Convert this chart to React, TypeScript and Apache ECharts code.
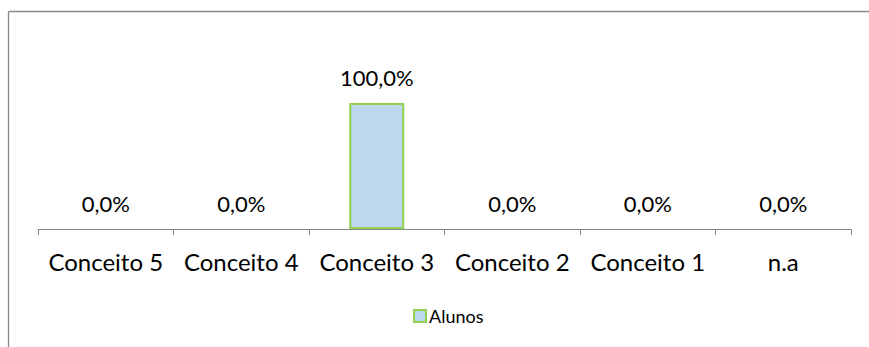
import React, { useEffect, useRef } from "react";
import * as echarts from "echarts";

const categories = ["Conceito 5", "Conceito 4", "Conceito 3", "Conceito 2", "Conceito 1", "n.a"];
const alunos = [0, 0, 100, 0, 0, 0];
const seriesName = "Alunos";

const FONT = "Lato";

export default function App() {
  const ref = useRef<HTMLDivElement>(null);
  useEffect(() => {
    if (!ref.current) return;
    const chart = echarts.init(ref.current, null, { renderer: "svg" });
    chart.setOption({
      animation: false,
      backgroundColor: "#ffffff",
      graphic: [
        {
          type: "line",
          shape: { x1: 8.5, y1: 11.5, x2: 869, y2: 11.5 },
          style: { stroke: "#898989", lineWidth: 1.3 },
          silent: true,
        },
        {
          type: "line",
          shape: { x1: 8.5, y1: 11.5, x2: 8.5, y2: 347 },
          style: { stroke: "#898989", lineWidth: 1.3 },
          silent: true,
        },
      ],
      grid: { left: 38, right: 18, top: 103, bottom: 118, containLabel: false },
      legend: {
        show: true,
        left: 408,
        top: 302,
        itemWidth: 12,
        itemHeight: 12,
        itemGap: 10,
        icon: "rect",
        textStyle: { fontFamily: FONT, fontSize: 18, color: "#000", padding: [0, 0, 0, -2] },
        data: [{ name: seriesName, itemStyle: { color: "#BDD7EE", borderColor: "#92D050", borderWidth: 2 } }],
      },
      xAxis: {
        type: "category",
        data: categories,
        boundaryGap: true,
        axisLine: { show: true, lineStyle: { color: "#868686", width: 1 } },
        axisTick: { show: true, length: 6, lineStyle: { color: "#868686" } },
        axisLabel: { fontFamily: FONT, fontSize: 24, color: "#000", margin: 20, interval: 0 },
        splitLine: { show: false },
      },
      yAxis: {
        type: "value",
        min: 0,
        max: 100,
        show: false,
      },
      series: [
        {
          name: seriesName,
          type: "bar",
          data: alunos.map((v) => ({
            value: v,
            itemStyle: v === 0 ? { borderWidth: 0 } : undefined,
          })),
          barWidth: 55,
          itemStyle: { color: "#BDD7EE", borderColor: "#92D050", borderWidth: 2 },
          label: {
            show: true,
            position: "top",
            distance: 15,
            fontFamily: FONT,
            fontSize: 22,
            color: "#000",
            formatter: (p: any) => Number(p.value).toFixed(1).replace(".", ",") + "%",
          },
        },
      ],
    });
    return () => chart.dispose();
  }, []);
  return (
    <div
      ref={ref}
      style={{ position: "absolute", left: 0, top: 0, width: 869, height: 347 }}
    />
  );
}
